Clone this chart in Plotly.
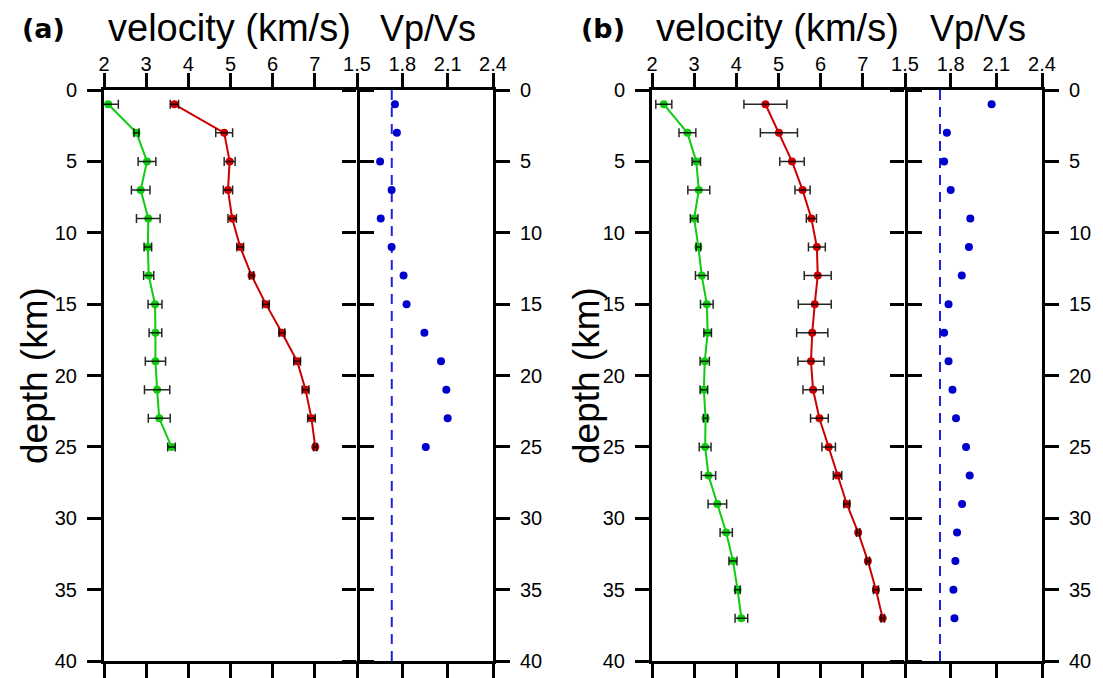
import plotly.graph_objects as go

# ---------------- data ----------------
depth_a = [1, 3, 5, 7, 9, 11, 13, 15, 17, 19, 21, 23, 25]
vs_a = [2.10, 2.77, 3.02, 2.87, 3.05, 3.04, 3.06, 3.21, 3.22, 3.22, 3.26, 3.31, 3.60]
vs_err_a = [0.24, 0.06, 0.21, 0.22, 0.28, 0.09, 0.12, 0.165, 0.15, 0.24, 0.30, 0.26, 0.09]
vp_a = [3.67, 4.85, 4.98, 4.94, 5.04, 5.23, 5.50, 5.84, 6.22, 6.58, 6.78, 6.92, 7.01]
vp_err_a = [0.10, 0.20, 0.13, 0.11, 0.10, 0.08, 0.05, 0.08, 0.07, 0.08, 0.08, 0.09, 0.04]
vpvs_a = [1.751, 1.764, 1.653, 1.729, 1.657, 1.729, 1.808, 1.828, 1.946, 2.056, 2.091, 2.100, 1.955]

depth_b = [1, 3, 5, 7, 9, 11, 13, 15, 17, 19, 21, 23, 25, 27, 29, 31, 33, 35, 37]
vs_b = [2.28, 2.84, 3.05, 3.11, 3.00, 3.10, 3.18, 3.30, 3.32, 3.25, 3.23, 3.27, 3.26,
        3.34, 3.55, 3.76, 3.92, 4.03, 4.12]
vs_err_b = [0.19, 0.20, 0.10, 0.26, 0.09, 0.055, 0.15, 0.15, 0.09, 0.11, 0.09, 0.05, 0.14,
            0.17, 0.22, 0.145, 0.095, 0.06, 0.15]
vp_b = [4.69, 5.01, 5.32, 5.57, 5.78, 5.91, 5.93, 5.86, 5.80, 5.77, 5.82, 5.97, 6.19,
        6.40, 6.62, 6.89, 7.12, 7.31, 7.47]
vp_err_b = [0.51, 0.44, 0.29, 0.18, 0.12, 0.20, 0.32, 0.39, 0.37, 0.31, 0.24, 0.21, 0.16,
            0.10, 0.07, 0.04, 0.04, 0.06, 0.04]
vpvs_b = [2.069, 1.775, 1.757, 1.800, 1.929, 1.920, 1.873, 1.786, 1.757, 1.786, 1.812,
          1.835, 1.901, 1.925, 1.875, 1.842, 1.831, 1.818, 1.825]

vpvs_ref = 1.73
ref_depths = [0, 40]

vel_ticks = [2, 3, 4, 5, 6, 7]
ratio_ticks = [1.5, 1.8, 2.1, 2.4]
ratio_ticklabels = ["1.5", "1.8", "2.1", "2.4"]
depth_ticks = [0, 5, 10, 15, 20, 25, 30, 35, 40]

# ---------------- layout helpers ----------------
W, H = 1103, 678
def fx(p):
    return p / W
def fy(p):
    return 1 - p / H

GREEN = "#10cc10"
RED = "#cc0000"
BLUE = "#0000cc"
ERR = "rgba(0,0,0,0.85)"
FONT = "Liberation Sans, Arial, sans-serif"

fig = go.Figure()

def add_panel(depth, vs, vs_err, vp, vp_err, vpvs, xa, ya, xb, yb, yover):
    for v, e, col in ((vs, vs_err, GREEN), (vp, vp_err, RED)):
        fig.add_trace(go.Scatter(
            x=v, y=depth, mode="lines+markers", xaxis=xa, yaxis=ya,
            line=dict(color=col, width=2),
            marker=dict(color=col, size=8),
            showlegend=False, cliponaxis=True))
        fig.add_trace(go.Scatter(
            x=v, y=depth, mode="markers", xaxis=xa, yaxis=ya,
            marker=dict(color="rgba(0,0,0,0)", size=1),
            error_x=dict(type="data", array=e, visible=True, color=ERR,
                         thickness=1.5, width=4.5),
            showlegend=False, cliponaxis=True))
    fig.add_trace(go.Scatter(
        x=[vpvs_ref, vpvs_ref], y=ref_depths, mode="lines", xaxis=xb, yaxis=yb,
        line=dict(color="#2222dd", width=2, dash="10px,7px"), showlegend=False))
    fig.add_trace(go.Scatter(
        x=vpvs, y=depth, mode="markers", xaxis=xb, yaxis=yb,
        marker=dict(color=BLUE, size=8), showlegend=False))
    # invisible trace so the overlay axis (inner ticks) is drawn
    fig.add_trace(go.Scatter(
        x=[vpvs_ref], y=[ref_depths[0]], mode="markers", xaxis=xb, yaxis=yover,
        marker=dict(color="rgba(0,0,0,0)", size=1), showlegend=False,
        hoverinfo="skip"))

add_panel(depth_a, vs_a, vs_err_a, vp_a, vp_err_a, vpvs_a, "x", "y", "x2", "y2", "y5")
add_panel(depth_b, vs_b, vs_err_b, vp_b, vp_err_b, vpvs_b, "x3", "y3", "x4", "y4", "y6")

ydom = [fy(661), fy(90)]
common = dict(showgrid=False, zeroline=False, showline=True, linewidth=3,
              linecolor="black", ticks="outside", ticklen=14, tickwidth=3,
              tickcolor="black", mirror="ticks", automargin=False,
              tickfont=dict(family=FONT, size=20, color="black"))

def xa(dom, rng, tv, tt, anchor):
    d = dict(common)
    d.update(domain=[fx(dom[0]), fx(dom[1])], range=rng, tickvals=tv, ticktext=tt,
             side="top", anchor=anchor, ticklabelstandoff=-6)
    return d

def ya_vel(anchor):
    d = dict(common)
    d.update(domain=ydom, range=[40, 0], tickvals=depth_ticks, side="left",
             anchor=anchor, ticklabelstandoff=6)
    return d

def ya_ratio(anchor):
    d = dict(common)
    d.update(domain=ydom, range=[40, 0], tickvals=depth_ticks, side="right",
             anchor=anchor, mirror=False, ticklabelstandoff=6)
    return d

def ya_inner(anchor, over):
    d = dict(common)
    d.update(domain=ydom, range=[40, 0], tickvals=depth_ticks, side="left",
             anchor=anchor, overlaying=over, showline=False, mirror=False,
             showticklabels=False)
    return d

vt = [str(v) for v in vel_ticks]
fig.update_layout(
    width=W, height=H, autosize=False,
    margin=dict(l=0, r=0, t=0, b=0, pad=0),
    paper_bgcolor="white", plot_bgcolor="white",
    xaxis=xa((104, 357), [2, 8], vel_ticks, vt, "y"),
    yaxis=ya_vel("x"),
    xaxis2=xa((357, 493), [1.5, 2.4], ratio_ticks, ratio_ticklabels, "y2"),
    yaxis2=ya_ratio("x2"),
    yaxis5=ya_inner("x2", "y2"),
    xaxis3=xa((652, 905), [2, 8], vel_ticks, vt, "y3"),
    yaxis3=ya_vel("x3"),
    xaxis4=xa((905, 1042), [1.5, 2.4], ratio_ticks, ratio_ticklabels, "y4"),
    yaxis4=ya_ratio("x4"),
    yaxis6=ya_inner("x4", "y4"),
)

def ann(text, x, y, size, bold=False, family=FONT, angle=0):
    fig.add_annotation(text=("<b>%s</b>" % text) if bold else text,
                       x=fx(x), y=fy(y), xref="paper", yref="paper",
                       xanchor="center", yanchor="middle", showarrow=False,
                       textangle=angle,
                       font=dict(family=family, size=size, color="black"))

ann("(a)", 43, 29, 27, bold=True, family="DejaVu Sans")
ann("velocity (km/s)", 229, 28, 38)
ann("Vp/Vs", 428, 28, 36)
ann("depth (km)", 34, 376, 37, angle=-90)
ann("(b)", 603, 29, 27, bold=True, family="DejaVu Sans")
ann("velocity (km/s)", 777, 28, 38)
ann("Vp/Vs", 978, 28, 36)
ann("depth (km)", 586, 376, 37, angle=-90)

fig.write_html(
    "out.html",
    config={"displayModeBar": False},
    post_script="document.body.style.margin='0';document.body.style.overflow='hidden';",
)
